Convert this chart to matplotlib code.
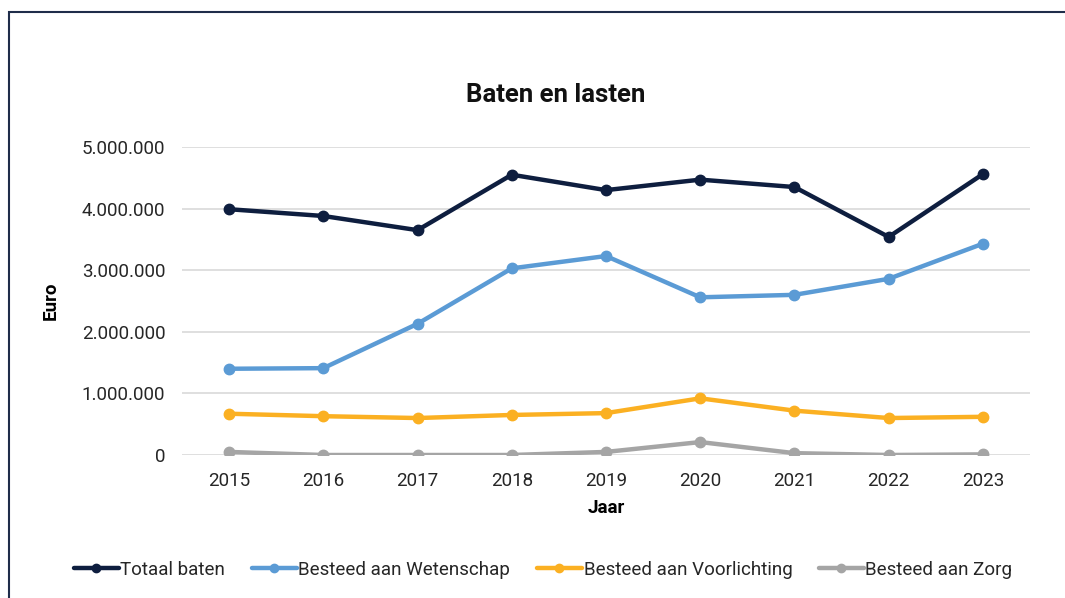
import matplotlib
matplotlib.use("Agg")
import matplotlib.pyplot as plt
from matplotlib.patches import Rectangle
from matplotlib.ticker import FuncFormatter

plt.rcParams["font.family"] = ["Roboto", "DejaVu Sans"]

years = ["2015", "2016", "2017", "2018", "2019", "2020", "2021", "2022", "2023"]
totaal_baten = [3990000, 3880000, 3650000, 4550000, 4300000, 4470000, 4350000, 3540000, 4560000]
wetenschap = [1400000, 1410000, 2130000, 3030000, 3230000, 2560000, 2600000, 2860000, 3430000]
voorlichting = [670000, 630000, 600000, 650000, 680000, 920000, 720000, 600000, 620000]
zorg = [50000, 0, 0, 0, 50000, 210000, 30000, 0, 10000]

series = [
    ("Totaal baten", totaal_baten, "#0e1e3f"),
    ("Besteed aan Wetenschap", wetenschap, "#5b9bd5"),
    ("Besteed aan Voorlichting", voorlichting, "#fbb022"),
    ("Besteed aan Zorg", zorg, "#a5a5a5"),
]

fig = plt.figure(figsize=(10.65, 5.98), dpi=100)
W, H = 1065, 598
ax = fig.add_axes([182 / W, 1 - 455 / H, (1030 - 182) / W, (455 - 147) / H])

x = range(len(years))
for name, vals, color in series:
    ax.plot(x, vals, color=color, linewidth=3.2, marker="o", markersize=7.5,
            label=name, solid_capstyle="round", zorder=3)

ax.set_xlim(-0.5, len(years) - 0.5)
ax.set_ylim(0, 5000000)
ax.set_yticks(range(0, 5000001, 1000000))
ax.yaxis.set_major_formatter(FuncFormatter(lambda v, p: f"{int(v):,}".replace(",", ".")))
ax.set_xticks(list(x))
ax.set_xticklabels(years)
ax.grid(axis="y", color="#d9d9d9", linewidth=1.2, zorder=0)
ax.set_axisbelow(True)
for s in ax.spines.values():
    s.set_visible(False)
ax.tick_params(length=0, labelsize=13.5, colors="#262626", pad=12)
ax.tick_params(axis="y", pad=12)

ax.set_xlabel("Jaar", fontsize=13.5, fontweight="bold", labelpad=7)
ax.set_ylabel("Euro", fontsize=13.5, fontweight="bold", labelpad=16)
fig.text(556 / W, 1 - 95 / H, "Baten en lasten", ha="center", va="center",
         fontsize=18.5, fontweight="bold", color="#111111")

leg = fig.legend(loc="center", bbox_to_anchor=(543 / W, 1 - 570 / H), ncol=4,
                 frameon=False, fontsize=13.5, handlelength=2.4, columnspacing=1.4,
                 handletextpad=0.1, markerscale=0.8)
for t in leg.get_texts():
    t.set_color("#262626")

fig.patches.append(Rectangle((9 / W, -0.1), 1.2, 1 - 12 / H + 0.1,
                             transform=fig.transFigure, fill=False,
                             edgecolor="#1f2d4a", linewidth=1.5))

fig.savefig("out.png", dpi=100)
